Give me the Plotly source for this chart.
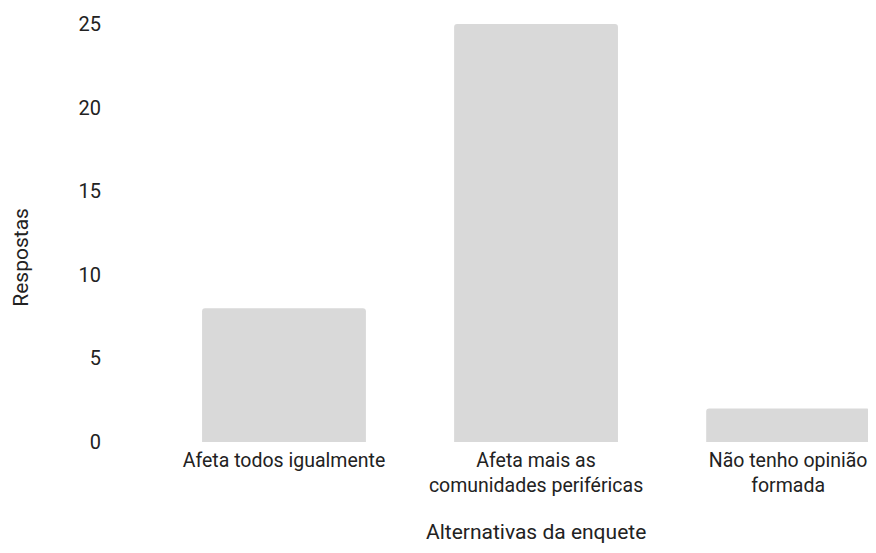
import plotly.graph_objects as go

categories = ["Afeta todos igualmente", "Afeta mais as<br>comunidades periféricas", "Não tenho opinião<br>formada"]
respostas = [8, 25, 2]
y_ticks = [0, 5, 10, 15, 20, 25]

FONT = "Roboto, Arial, sans-serif"
TXT = "#222222"

# page body has an 8px margin; figure sized to stay inside the visible page area
W, H = 860, 537
L, T = 94, 16
B = H - (442.5 - 8)
PW, PH = W - L, H - T - B

fig = go.Figure(
    go.Bar(
        x=list(range(len(categories))),
        y=respostas,
        marker=dict(color="#d9d9d9", line=dict(width=0), cornerradius=3),
        width=0.65,
        hoverinfo="skip",
    )
)

fig.update_layout(
    width=W,
    height=H,
    paper_bgcolor="white",
    plot_bgcolor="white",
    margin=dict(l=L, r=0, t=T, b=B, autoexpand=False),
    font=dict(family=FONT, size=21, color=TXT),
    showlegend=False,
    xaxis=dict(
        range=[-0.722, 2.317],
        tickmode="array",
        tickvals=list(range(len(categories))),
        ticktext=categories,
        showgrid=False,
        zeroline=False,
        showline=False,
        ticks="",
        ticklabelstandoff=4,
        ticklabeloverflow="allow",
        automargin=False,
        tickfont=dict(size=19.5, color=TXT),
    ),
    yaxis=dict(
        range=[0, 25],
        tickmode="array",
        tickvals=y_ticks,
        showgrid=False,
        zeroline=False,
        showline=False,
        ticks="",
        automargin=False,
        tickfont=dict(size=20, color=TXT),
    ),
    annotations=[
        dict(
            text="Alternativas da enquete",
            xref="paper", yref="paper",
            x=(536 - 102) / PW, y=-(533 - 442.5) / PH,
            xanchor="center", yanchor="middle",
            showarrow=False,
            font=dict(size=21, color=TXT),
        ),
        dict(
            text="Respostas",
            xref="paper", yref="paper",
            x=(21 - 102) / PW, y=(442.5 - 258) / PH,
            xanchor="center", yanchor="middle",
            textangle=-90,
            showarrow=False,
            font=dict(size=21, color=TXT),
        ),
    ],
)

fig.write_html("out.html")
